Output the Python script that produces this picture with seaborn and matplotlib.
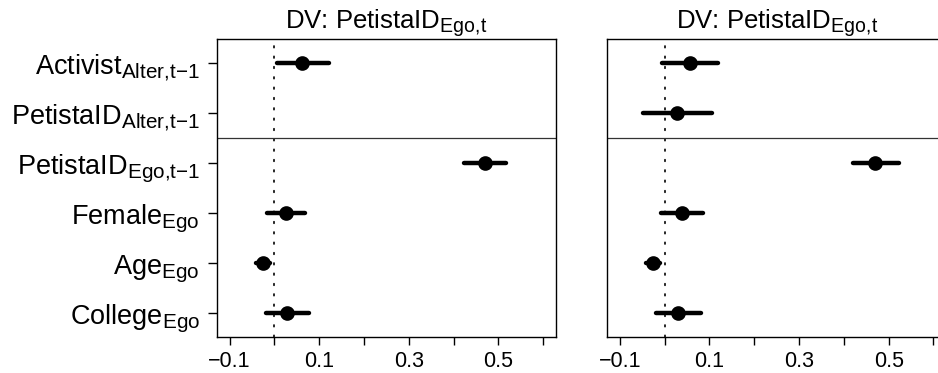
import numpy as np
import pandas as pd
import matplotlib
matplotlib.use("Agg")
import matplotlib.pyplot as plt
import matplotlib._mathtext as _mathtext
import seaborn as sns

# Model terms, top to bottom
terms = ["Activist", "PetistaID_Alter", "PetistaID_Ego", "Female", "Age", "College"]
term_labels = [
    "Activist$_{\\mathrm{Alter{,}t{\u2212}1}}$",
    "PetistaID$_{\\mathrm{Alter{,}t{\u2212}1}}$",
    "PetistaID$_{\\mathrm{Ego{,}t{\u2212}1}}$",
    "Female$_{\\mathrm{Ego}}$",
    "Age$_{\\mathrm{Ego}}$",
    "College$_{\\mathrm{Ego}}$",
]
panel_title = "DV: PetistaID$_{\\mathrm{Ego{,}t}}$"

# Model 1 (no alter PetistaID term): estimate and interval bounds
m1_est = [0.062, np.nan, 0.471, 0.027, -0.026, 0.028]
m1_lo = [0.006, np.nan, 0.424, -0.016, -0.040, -0.018]
m1_hi = [0.122, np.nan, 0.516, 0.069, -0.010, 0.077]

# Model 2 (with alter PetistaID term)
m2_est = [0.056, 0.028, 0.469, 0.038, -0.026, 0.030]
m2_lo = [-0.006, -0.048, 0.421, -0.008, -0.042, -0.020]
m2_hi = [0.118, 0.105, 0.522, 0.085, -0.011, 0.081]

x_ticks = [-0.1, 0.0, 0.1, 0.2, 0.3, 0.4, 0.5, 0.6]
x_tick_labels = ["\u22120.1", "", "0.1", "", "0.3", "", "0.5", ""]


def long_form(est, lo, hi):
    rows = []
    for t, e, l, h in zip(terms, est, lo, hi):
        if np.isnan(e):
            continue
        for v in (l, e, h):
            rows.append({"term": t, "value": v})
    return pd.DataFrame(rows)


sns.set_theme(style="ticks")
plt.rcParams["font.family"] = ["Liberation Sans", "DejaVu Sans"]
plt.rcParams["mathtext.fontset"] = "custom"
plt.rcParams["mathtext.rm"] = "Liberation Sans"
plt.rcParams["mathtext.it"] = "Liberation Sans:italic"
plt.rcParams["mathtext.bf"] = "Liberation Sans:bold"
for key in ("text.color", "axes.labelcolor", "xtick.color", "ytick.color",
            "axes.edgecolor"):
    plt.rcParams[key] = "black"
# slightly larger subscripts
_mathtext.SHRINK_FACTOR = 0.76

W, H = 938, 373
fig = plt.figure(figsize=(W / 100, H / 100), dpi=100)
ax_w = 338.7 / W
ax_h = 297.4 / H
ax_b = (H - 336.7) / H
ax1 = fig.add_axes([217.0 / W, ax_b, ax_w, ax_h])
ax2 = fig.add_axes([607.3 / W, ax_b, ax_w, ax_h])

for ax, (est, lo, hi), show_y in [
    (ax1, (m1_est, m1_lo, m1_hi), True),
    (ax2, (m2_est, m2_lo, m2_hi), False),
]:
    df = long_form(est, lo, hi)
    ax.axvline(0, color="black", lw=1.2, ls=(0, (1, 5.2)),
               dash_capstyle="round", zorder=1)
    sns.pointplot(
        data=df, x="value", y="term", order=terms,
        estimator="median",
        errorbar=lambda v: (v.min(), v.max()),
        color="black", linestyle="none", markersize=8.5,
        err_kws={"linewidth": 3.2, "solid_capstyle": "round"},
        ax=ax,
    )
    ax.axhline(1.5, color="#333333", lw=0.9, zorder=1)
    ax.set_xlim(-0.128, 0.628)
    ax.set_ylim(5.47, -0.47)
    ax.set_xticks(x_ticks)
    ax.set_xticklabels(x_tick_labels, fontsize=15.5)
    ax.set_xlabel("")
    ax.set_ylabel("")
    ax.set_title(panel_title, fontsize=18.5, pad=5, color="black")
    for s in ax.spines.values():
        s.set_visible(True)
        s.set_color("black")
        s.set_linewidth(1.0)
    ax.tick_params(axis="x", length=6, width=1, pad=4, colors="black")
    if show_y:
        ax.set_yticks(range(len(terms)))
        ax.set_yticklabels(term_labels, fontsize=19.5)
        ax.tick_params(axis="y", length=6.5, width=1, pad=6, colors="black")
    else:
        ax.set_yticks([])

fig.savefig("out.png", dpi=100)
